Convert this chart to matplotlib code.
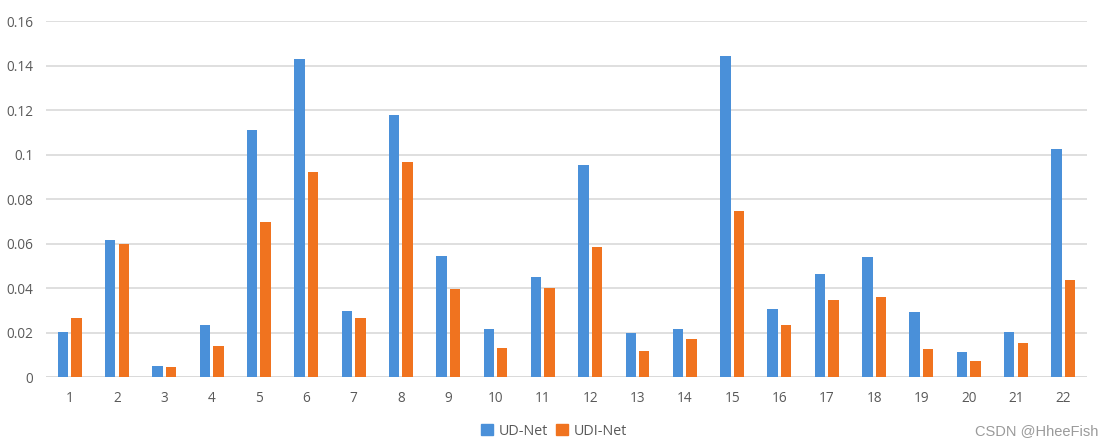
import numpy as np
import matplotlib
matplotlib.use("Agg")
import matplotlib.pyplot as plt
from matplotlib.patches import Patch

plt.rcParams['font.family'] = ['Open Sans', 'DejaVu Sans']

labels = [str(i) for i in range(1, 23)]
ud_net = [0.0204, 0.0615, 0.0049, 0.0234, 0.1110, 0.1430, 0.0297, 0.1179,
          0.0543, 0.0214, 0.0450, 0.0954, 0.0199, 0.0214, 0.1441, 0.0306,
          0.0465, 0.0540, 0.0291, 0.0112, 0.0204, 0.1024]
udi_net = [0.0264, 0.0600, 0.0045, 0.0139, 0.0697, 0.0920, 0.0264, 0.0967,
           0.0394, 0.0129, 0.0400, 0.0583, 0.0117, 0.0172, 0.0747, 0.0234,
           0.0346, 0.0358, 0.0126, 0.0072, 0.0151, 0.0436]
yticks = [0, 0.02, 0.04, 0.06, 0.08, 0.1, 0.12, 0.14, 0.16]
ytick_labels = ['0', '0.02', '0.04', '0.06', '0.08', '0.1', '0.12', '0.14', '0.16']

blue = '#4A90D9'
orange = '#F0731F'
txt = '#595959'

fig = plt.figure(figsize=(11.03, 4.44), dpi=100)
ax = fig.add_axes([0.0417, 0.1509, 0.9438, 0.8018])

x = np.arange(len(labels))
w = 0.22
ax.bar(x - 0.143, ud_net, w, color=blue, zorder=3)
ax.bar(x + 0.143, udi_net, w, color=orange, zorder=3)

ax.set_xlim(-0.5, len(labels) - 0.5)
ax.set_ylim(0, 0.16)
ax.set_yticks(yticks)
ax.set_yticklabels(ytick_labels)
ax.set_xticks(x)
ax.set_xticklabels(labels)
ax.yaxis.grid(True, color='#D9D9D9', linewidth=1.2, zorder=0)
for s in ax.spines.values():
    s.set_visible(False)
ax.axhline(0, color='#D9D9D9', linewidth=1.2, zorder=1)
ax.tick_params(axis='both', length=0, colors=txt, labelsize=9.8)
ax.tick_params(axis='y', pad=9)
ax.tick_params(axis='x', pad=10)

handles = [Patch(color=blue, label='UD-Net'), Patch(color=orange, label='UDI-Net')]
leg = fig.legend(handles=handles, loc='center', bbox_to_anchor=(0.5023, 0.029),
                 ncol=2, frameon=False, fontsize=10.3, handlelength=0.8,
                 handleheight=0.8, handletextpad=0.4, columnspacing=0.6)
for t in leg.get_texts():
    t.set_color(txt)

fig.text(0.996, 0.029, 'CSDN @HheeFish', ha='right', va='center',
         fontsize=10.5, color='#9A9A9A', family=['Liberation Sans', 'DejaVu Sans'])

fig.savefig('out.png', dpi=100)
